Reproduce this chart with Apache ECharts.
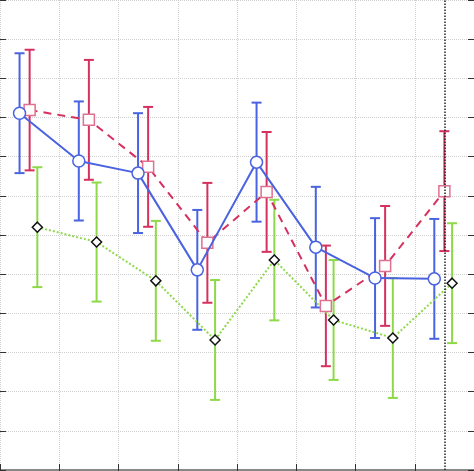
<!DOCTYPE html>
<html>
<head>
<meta charset="utf-8">
<script src="https://cdn.jsdelivr.net/npm/echarts@6/dist/echarts.min.js"></script>
<style>html,body{margin:0;padding:0;background:#fff}#c{width:474px;height:471px}</style>
</head>
<body>
<div id="c"></div>
<script>
var xs = [1, 2, 3, 4, 5, 6, 7, 8];
var blueVals = [9.11, 7.89, 7.58, 5.11, 7.86, 5.69, 4.90, 4.88];
var blueErr = [1.53, 1.52, 1.53, 1.53, 1.52, 1.54, 1.53, 1.53];
var redVals = [9.19, 8.94, 7.74, 5.80, 7.10, 4.19, 5.21, 7.12];
var redErr = [1.54, 1.53, 1.53, 1.53, 1.53, 1.54, 1.53, 1.53];
var greenVals = [6.20, 5.82, 4.83, 3.32, 5.36, 3.83, 3.37, 4.77];
var greenErr = [1.53, 1.52, 1.53, 1.53, 1.54, 1.53, 1.53, 1.53];

function pts(vals, off) {
    return vals.map((v, i) => [xs[i] + off, v]);
}
function errData(vals, errs, off) {
    return vals.map((v, i) => [xs[i] + off, v - errs[i], v + errs[i]]);
}
function errSeries(vals, errs, off, color) {
    return {
        type: 'custom', silent: true, z: 1,
        data: errData(vals, errs, off),
        renderItem: function(params, api) {
            var lo = api.coord([api.value(0), api.value(1)]);
            var hi = api.coord([api.value(0), api.value(2)]);
            var w = 5;
            var st = { stroke: color, lineWidth: 2 };
            return {
                type: 'group', children: [
                    { type: 'line', shape: { x1: lo[0], y1: lo[1], x2: hi[0], y2: hi[1] }, style: st },
                    { type: 'line', shape: { x1: lo[0] - w, y1: lo[1], x2: lo[0] + w, y2: lo[1] }, style: st },
                    { type: 'line', shape: { x1: hi[0] - w, y1: hi[1], x2: hi[0] + w, y2: hi[1] }, style: st }
                ]
            };
        }
    };
}

var gridLine = { show: true, lineStyle: { color: '#d0d0d0', type: 'dotted', width: 1 } };
var tick = { show: true, inside: true, length: 6, lineStyle: { color: '#333' } };

var option = {
    animation: false,
    grid: { left: 0, right: 0, top: 0, bottom: 1 },
    xAxis: [
        { type: 'value', min: 0.5, max: 8.5, interval: 1, position: 'bottom',
          axisLabel: { show: false }, axisTick: tick, splitLine: gridLine,
          axisLine: { show: true, lineStyle: { color: '#888', width: 2 } } },
        { type: 'value', min: 0.5, max: 8.5, interval: 1, position: 'top',
          axisLabel: { show: false }, axisTick: tick, splitLine: { show: false },
          axisLine: { show: false } }
    ],
    yAxis: [
        { type: 'value', min: 0, max: 12, interval: 1, position: 'left',
          axisLabel: { show: false }, axisTick: tick, splitLine: gridLine,
          axisLine: { show: false } },
        { type: 'value', min: 0, max: 12, interval: 1, position: 'right',
          axisLabel: { show: false }, axisTick: tick, splitLine: { show: false },
          axisLine: { show: false } }
    ],
    series: [
        errSeries(blueVals, blueErr, -0.17, '#4a63e0'),
        errSeries(redVals, redErr, 0, '#d6305e'),
        errSeries(greenVals, greenErr, 0.13, '#8ed94a'),
        {
            type: 'line', data: pts(greenVals, 0.13), z: 3,
            lineStyle: { color: '#8ed94a', type: 'dotted', width: 2 },
            symbol: 'diamond', symbolSize: 10,
            itemStyle: { color: '#fff', borderColor: '#111', borderWidth: 1.5 },
            markLine: { silent: true, symbol: 'none', label: { show: false },
                lineStyle: { color: '#222', type: 'dotted', width: 1.5 },
                data: [{ xAxis: 8 }] }
        },
        {
            type: 'line', data: pts(redVals, 0), z: 4,
            lineStyle: { color: '#d6305e', type: [8, 6], width: 2 },
            symbol: 'rect', symbolSize: 11,
            itemStyle: { color: '#fff', borderColor: '#e07090', borderWidth: 1.5 }
        },
        {
            type: 'line', data: pts(blueVals, -0.17), z: 5,
            lineStyle: { color: '#4a63e0', width: 2 },
            symbol: 'circle', symbolSize: 12,
            itemStyle: { color: '#fff', borderColor: '#4a63e0', borderWidth: 1.5 }
        }
    ]
};
echarts.init(document.getElementById('c')).setOption(option);
</script>
</body>
</html>
